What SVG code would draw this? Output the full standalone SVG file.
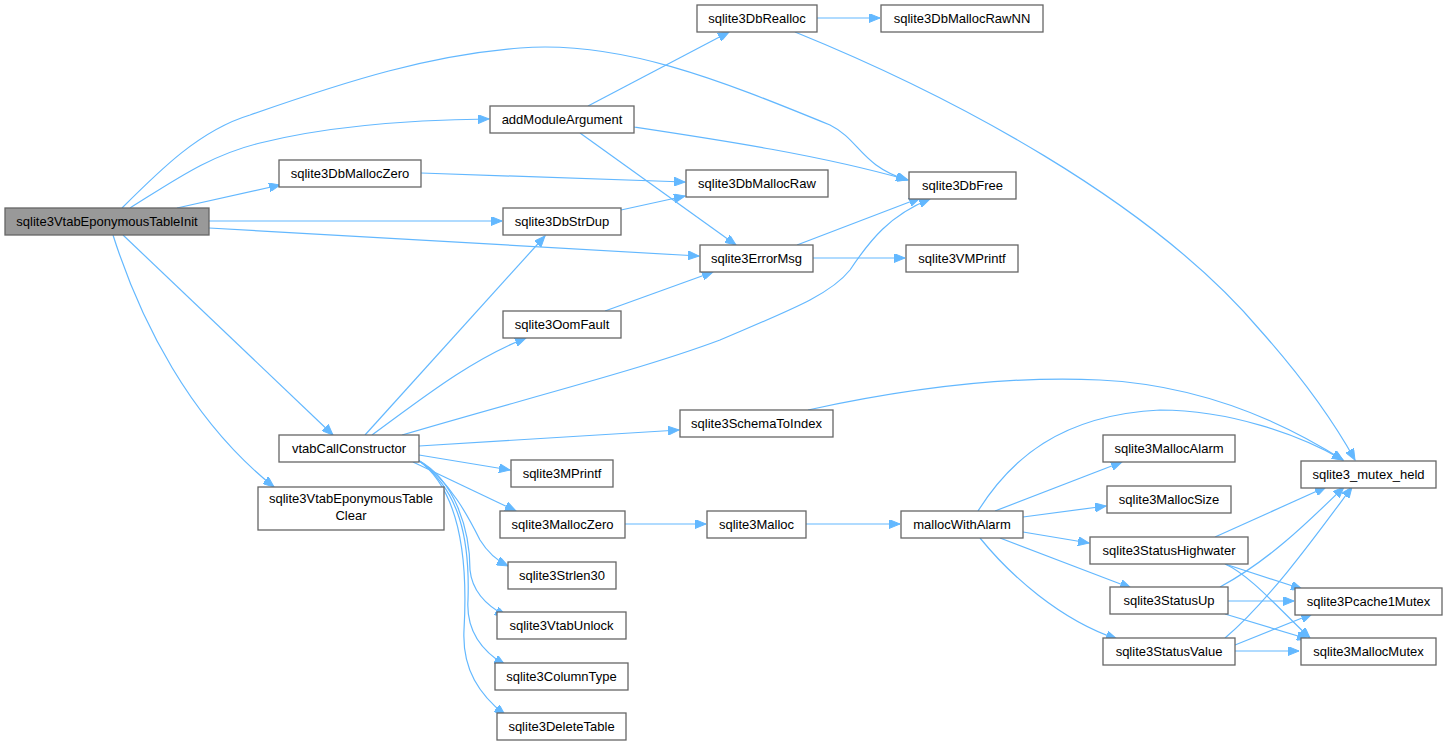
<svg xmlns="http://www.w3.org/2000/svg" width="1447" height="747" viewBox="0 0 1447 747">
<style>
.n rect{fill:#ffffff;stroke:#666666;stroke-width:1.3}
.n.root rect{fill:#999999}
.n text{font-family:"Liberation Sans",Arial,sans-serif;font-size:13px;fill:#000000;text-anchor:middle}
#edges path{fill:none;stroke:#63b8ff;stroke-width:1.2;marker-end:url(#ah)}
</style>
<defs>
<marker id="ah" markerUnits="userSpaceOnUse" markerWidth="12" markerHeight="9" refX="11" refY="4.5" orient="auto" viewBox="0 0 12 9">
<path d="M0,0 L11,4.5 L0,9 z" fill="#63b8ff" stroke="#63b8ff" stroke-width="1"/>
</marker>
</defs>
<rect width="1447" height="747" fill="#ffffff"/>
<g id="edges">
<path d="M130,208 C175,180 210,155 260,143 C320,128 400,120 489,119"/>
<path d="M122,208 C160,170 200,130 250,115 C350,80 430,55 520,48 C620,40 720,80 830,125 C860,140 860,165 907,180"/>
<path d="M177,208 L280,185"/>
<path d="M209,221 L502,221"/>
<path d="M209,228 L699,256"/>
<path d="M123,235 L333,435"/>
<path d="M113,235 C140,320 190,420 274,487"/>
<path d="M588,106 L729,32"/>
<path d="M634,127 C720,140 820,155 908,180"/>
<path d="M580,133 L736,245"/>
<path d="M817,18 L880,18"/>
<path d="M795,32 C950,95 1150,200 1260,330 C1300,375 1330,415 1355,460"/>
<path d="M421,173 L685,182"/>
<path d="M621,210 L685,196"/>
<path d="M797,245 L920,198"/>
<path d="M813,258 L905,258"/>
<path d="M605,311 L713,272"/>
<path d="M365,435 L545,236"/>
<path d="M372,435 C420,400 470,360 526,338"/>
<path d="M402,435 C520,400 640,370 720,340 C790,310 830,295 850,270 C870,240 890,215 930,199"/>
<path d="M419,446 L679,430"/>
<path d="M419,455 L510,470"/>
<path d="M413,462 L516,511"/>
<path d="M418,460 C450,480 470,520 480,540 C488,553 496,560 508,566"/>
<path d="M418,460 C455,480 470,530 470,570 C472,590 485,605 506,616"/>
<path d="M418,460 C460,490 470,540 468,600 C466,630 480,650 505,665"/>
<path d="M418,460 C460,490 468,560 464,630 C462,670 480,695 505,715"/>
<path d="M808,410 C900,390 1000,375 1100,380 C1200,385 1280,420 1343,460"/>
<path d="M625,524 L706,524"/>
<path d="M806,524 L900,524"/>
<path d="M978,511 C1010,460 1060,415 1160,410 C1230,410 1300,435 1343,460"/>
<path d="M995,511 L1122,462"/>
<path d="M1023,517 L1106,506"/>
<path d="M1023,532 L1089,543"/>
<path d="M1000,538 L1131,588"/>
<path d="M980,538 C1010,575 1060,620 1117,639"/>
<path d="M1215,537 L1326,487"/>
<path d="M1225,564 L1302,589"/>
<path d="M1225,564 C1250,575 1280,610 1310,638"/>
<path d="M1220,587 C1270,560 1310,520 1344,487"/>
<path d="M1228,601 L1294,601"/>
<path d="M1225,614 L1308,639"/>
<path d="M1225,638 C1270,600 1320,530 1352,487"/>
<path d="M1235,645 L1312,614"/>
<path d="M1235,651 L1299,651"/>
</g>
<g id="n_init" class="n root"><rect x="5" y="208" width="204" height="27"/><text x="107" y="226">sqlite3VtabEponymousTableInit</text></g>
<g id="n_addModuleArgument" class="n"><rect x="490" y="106" width="144" height="27"/><text x="562" y="124">addModuleArgument</text></g>
<g id="n_sqlite3DbRealloc" class="n"><rect x="697" y="5" width="120" height="27"/><text x="757" y="23">sqlite3DbRealloc</text></g>
<g id="n_sqlite3DbMallocRawNN" class="n"><rect x="881" y="5" width="162" height="27"/><text x="962" y="23">sqlite3DbMallocRawNN</text></g>
<g id="n_sqlite3DbMallocZero" class="n"><rect x="279" y="160" width="142" height="27"/><text x="350" y="178">sqlite3DbMallocZero</text></g>
<g id="n_sqlite3DbMallocRaw" class="n"><rect x="686" y="170" width="142" height="27"/><text x="757" y="188">sqlite3DbMallocRaw</text></g>
<g id="n_sqlite3DbFree" class="n"><rect x="909" y="172" width="107" height="27"/><text x="962.5" y="190">sqlite3DbFree</text></g>
<g id="n_sqlite3DbStrDup" class="n"><rect x="503" y="208" width="118" height="27"/><text x="562" y="226">sqlite3DbStrDup</text></g>
<g id="n_sqlite3ErrorMsg" class="n"><rect x="700" y="245" width="113" height="27"/><text x="756.5" y="263">sqlite3ErrorMsg</text></g>
<g id="n_sqlite3VMPrintf" class="n"><rect x="906" y="245" width="112" height="27"/><text x="962" y="263">sqlite3VMPrintf</text></g>
<g id="n_sqlite3OomFault" class="n"><rect x="503" y="311" width="118" height="27"/><text x="562" y="329">sqlite3OomFault</text></g>
<g id="n_vtabCallConstructor" class="n"><rect x="279" y="435" width="140" height="27"/><text x="349" y="453">vtabCallConstructor</text></g>
<g id="n_clear" class="n"><rect x="258" y="487" width="186" height="43"/><text x="351" y="503">sqlite3VtabEponymousTable</text><text x="351" y="520">Clear</text></g>
<g id="n_sqlite3SchemaToIndex" class="n"><rect x="680" y="410" width="153" height="27"/><text x="756.5" y="428">sqlite3SchemaToIndex</text></g>
<g id="n_sqlite3MPrintf" class="n"><rect x="511" y="460" width="102" height="27"/><text x="562" y="478">sqlite3MPrintf</text></g>
<g id="n_sqlite3MallocZero" class="n"><rect x="500" y="511" width="125" height="27"/><text x="562.5" y="529">sqlite3MallocZero</text></g>
<g id="n_sqlite3Malloc" class="n"><rect x="707" y="511" width="99" height="27"/><text x="756.5" y="529">sqlite3Malloc</text></g>
<g id="n_mallocWithAlarm" class="n"><rect x="901" y="511" width="122" height="27"/><text x="962" y="529">mallocWithAlarm</text></g>
<g id="n_sqlite3Strlen30" class="n"><rect x="508" y="562" width="108" height="27"/><text x="562" y="580">sqlite3Strlen30</text></g>
<g id="n_sqlite3VtabUnlock" class="n"><rect x="497" y="612" width="129" height="27"/><text x="561.5" y="630">sqlite3VtabUnlock</text></g>
<g id="n_sqlite3ColumnType" class="n"><rect x="495" y="663" width="133" height="27"/><text x="561.5" y="681">sqlite3ColumnType</text></g>
<g id="n_sqlite3DeleteTable" class="n"><rect x="497" y="713" width="129" height="27"/><text x="561.5" y="731">sqlite3DeleteTable</text></g>
<g id="n_sqlite3MallocAlarm" class="n"><rect x="1103" y="435" width="132" height="27"/><text x="1169" y="453">sqlite3MallocAlarm</text></g>
<g id="n_sqlite3MallocSize" class="n"><rect x="1107" y="486" width="124" height="27"/><text x="1169" y="504">sqlite3MallocSize</text></g>
<g id="n_sqlite3StatusHighwater" class="n"><rect x="1090" y="537" width="158" height="27"/><text x="1169" y="555">sqlite3StatusHighwater</text></g>
<g id="n_sqlite3StatusUp" class="n"><rect x="1110" y="587" width="118" height="27"/><text x="1169" y="605">sqlite3StatusUp</text></g>
<g id="n_sqlite3StatusValue" class="n"><rect x="1103" y="638" width="132" height="27"/><text x="1169" y="656">sqlite3StatusValue</text></g>
<g id="n_sqlite3_mutex_held" class="n"><rect x="1301" y="461" width="135" height="27"/><text x="1368.5" y="479">sqlite3_mutex_held</text></g>
<g id="n_sqlite3Pcache1Mutex" class="n"><rect x="1295" y="588" width="147" height="27"/><text x="1368.5" y="606">sqlite3Pcache1Mutex</text></g>
<g id="n_sqlite3MallocMutex" class="n"><rect x="1301" y="638" width="135" height="27"/><text x="1368.5" y="656">sqlite3MallocMutex</text></g>
</svg>
